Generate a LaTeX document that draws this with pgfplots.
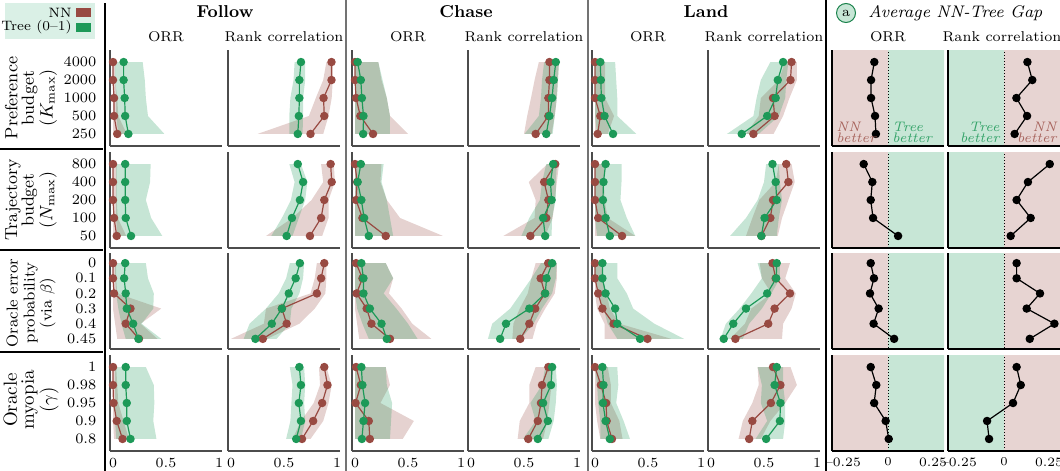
\documentclass[border=0pt]{standalone}
\usepackage{pgfplots}
\pgfplotsset{compat=1.18}
\usepackage{pgfplotstable}
\usepgfplotslibrary{fillbetween}
\definecolor{nncol}{RGB}{152,74,66}
\definecolor{trcol}{RGB}{29,153,88}
\definecolor{gappink}{RGB}{231,212,210}
\definecolor{gapgreen}{RGB}{199,230,214}
\definecolor{legbg}{RGB}{218,240,230}

% ---------- Row a: preference budget ----------
\pgfplotstableread{
y nn nnlo nnhi tr trlo trhi
0 0.00 0.00 0.02 0.10 0.02 0.28
-1 0.00 0.00 0.02 0.10 0.02 0.30
-2 0.01 0.00 0.04 0.11 0.03 0.31
-3 0.01 0.00 0.05 0.115 0.03 0.33
-4 0.04 0.00 0.13 0.145 0.05 0.485
}\Fao
\pgfplotstableread{
y nn nnlo nnhi tr trlo trhi
0 0.948 0.90 0.96 0.66 0.60 0.70
-1 0.948 0.87 0.96 0.645 0.59 0.70
-2 0.873 0.80 0.95 0.645 0.56 0.68
-3 0.88 0.735 0.92 0.64 0.55 0.68
-4 0.75 0.25 0.87 0.63 0.55 0.675
}\Far
\pgfplotstableread{
y nn nnlo nnhi tr trlo trhi
0 0.00 0.00 0.22 0.025 0.00 0.22
-1 0.00 0.00 0.25 0.055 0.00 0.26
-2 0.01 0.00 0.30 0.065 0.00 0.30
-3 0.05 0.00 0.33 0.08 0.00 0.33
-4 0.17 0.00 0.50 0.077 0.00 0.33
}\Cao
\pgfplotstableread{
y nn nnlo nnhi tr trlo trhi
0 0.74 0.64 0.83 0.80 0.69 0.83
-1 0.74 0.60 0.82 0.78 0.67 0.82
-2 0.73 0.566 0.81 0.765 0.66 0.81
-3 0.73 0.53 0.79 0.74 0.64 0.79
-4 0.61 0.50 0.76 0.71 0.505 0.77
}\Car
\pgfplotstableread{
y nn nnlo nnhi tr trlo trhi
0 0.00 0.00 0.095 0.05 0.00 0.19
-1 0.00 0.00 0.095 0.055 0.00 0.20
-2 0.00 0.00 0.095 0.06 0.00 0.21
-3 0.05 0.00 0.18 0.09 0.00 0.21
-4 0.025 0.00 0.12 0.17 0.02 0.39
}\Lao
\pgfplotstableread{
y nn nnlo nnhi tr trlo trhi
0 0.76 0.70 0.81 0.68 0.56 0.73
-1 0.75 0.64 0.81 0.63 0.47 0.71
-2 0.585 0.47 0.74 0.61 0.43 0.70
-3 0.60 0.45 0.68 0.53 0.40 0.64
-4 0.40 0.33 0.59 0.29 0.15 0.45
}\Lar
\pgfplotstableread{
y orr rank
0 -0.076 0.13
-1 -0.094 0.157
-2 -0.094 0.069
-3 -0.072 0.128
-4 -0.067 0.059
}\Ga

% ---------- Row b: trajectory budget ----------
\pgfplotstableread{
y nn nnlo nnhi tr trlo trhi
0 0.00 0.00 0.035 0.115 0.03 0.355
-1 0.00 0.00 0.035 0.115 0.03 0.35
-2 0.00 0.00 0.035 0.115 0.03 0.31
-3 0.01 0.00 0.045 0.12 0.03 0.36
-4 0.035 0.00 0.125 0.17 0.04 0.465
}\Fbo
\pgfplotstableread{
y nn nnlo nnhi tr trlo trhi
0 0.94 0.85 0.97 0.63 0.55 0.66
-1 0.95 0.87 0.98 0.68 0.60 0.72
-2 0.88 0.76 0.92 0.65 0.565 0.70
-3 0.85 0.58 0.92 0.575 0.48 0.64
-4 0.745 0.33 0.86 0.525 0.38 0.58
}\Fbr
\pgfplotstableread{
y nn nnlo nnhi tr trlo trhi
0 0.00 0.00 0.25 0.055 0.00 0.27
-1 0.02 0.00 0.24 0.025 0.00 0.25
-2 0.01 0.00 0.30 0.06 0.00 0.30
-3 0.07 0.00 0.425 0.086 0.00 0.33
-4 0.29 0.00 0.83 0.13 0.00 0.36
}\Cbo
\pgfplotstableread{
y nn nnlo nnhi tr trlo trhi
0 0.795 0.72 0.83 0.775 0.71 0.81
-1 0.69 0.545 0.81 0.75 0.67 0.80
-2 0.73 0.61 0.79 0.76 0.65 0.80
-3 0.71 0.60 0.77 0.68 0.55 0.765
-4 0.56 0.305 0.70 0.70 0.475 0.76
}\Cbr
\pgfplotstableread{
y nn nnlo nnhi tr trlo trhi
0 0.00 0.00 0.09 0.10 0.00 0.25
-1 0.00 0.00 0.085 0.08 0.00 0.25
-2 0.00 0.00 0.09 0.075 0.00 0.24
-3 0.03 0.00 0.12 0.10 0.00 0.30
-4 0.255 0.00 0.38 0.14 0.02 0.38
}\Lbo
\pgfplotstableread{
y nn nnlo nnhi tr trlo trhi
0 0.71 0.64 0.76 0.58 0.52 0.64
-1 0.73 0.61 0.79 0.61 0.50 0.65
-2 0.585 0.455 0.73 0.62 0.44 0.67
-3 0.56 0.39 0.67 0.505 0.33 0.64
-4 0.475 0.33 0.63 0.475 0.18 0.62
}\Lbr
\pgfplotstableread{
y orr rank
0 -0.135 0.254
-1 -0.087 0.133
-2 -0.096 0.07
-3 -0.083 0.148
-4 0.056 0.037
}\Gb

% ---------- Row c: oracle error probability ----------
\pgfplotstableread{
y nn nnlo nnhi tr trlo trhi
0 0.00 0.00 0.03 0.115 0.02 0.31
-1 0.00 0.00 0.03 0.105 0.02 0.33
-2 0.01 0.00 0.04 0.12 0.03 0.385
-3 0.165 0.00 0.455 0.13 0.05 0.38
-4 0.12 0.02 0.26 0.19 0.08 0.27
-5 0.245 0.04 0.42 0.24 0.12 0.455
}\Fco
\pgfplotstableread{
y nn nnlo nnhi tr trlo trhi
0 0.88 0.81 0.90 0.65 0.555 0.69
-1 0.85 0.79 0.90 0.61 0.52 0.68
-2 0.81 0.75 0.89 0.545 0.45 0.645
-3 0.48 0.33 0.79 0.48 0.33 0.57
-4 0.525 0.31 0.645 0.385 0.175 0.555
-5 0.30 0.00 0.34 0.23 0.12 0.43
}\Fcr
\pgfplotstableread{
y nn nnlo nnhi tr trlo trhi
0 0.01 0.00 0.29 0.06 0.00 0.29
-1 0.07 0.00 0.36 0.08 0.00 0.36
-2 0.015 0.00 0.32 0.08 0.00 0.27
-3 0.11 0.00 0.44 0.14 0.02 0.39
-4 0.155 0.02 0.54 0.25 0.07 0.50
-5 0.33 0.04 0.72 0.30 0.13 0.59
}\Cco
\pgfplotstableread{
y nn nnlo nnhi tr trlo trhi
0 0.728 0.61 0.81 0.765 0.66 0.81
-1 0.657 0.57 0.81 0.713 0.57 0.80
-2 0.697 0.535 0.79 0.70 0.47 0.765
-3 0.606 0.46 0.70 0.55 0.37 0.67
-4 0.55 0.40 0.62 0.33 0.20 0.59
-5 0.465 0.39 0.58 0.275 0.16 0.47
}\Ccr
\pgfplotstableread{
y nn nnlo nnhi tr trlo trhi
0 0.00 0.00 0.06 0.07 0.00 0.21
-1 0.00 0.00 0.07 0.07 0.00 0.21
-2 0.03 0.00 0.11 0.10 0.03 0.30
-3 0.07 0.02 0.14 0.19 0.08 0.36
-4 0.175 0.09 0.23 0.21 0.12 0.56
-5 0.495 0.09 0.72 0.425 0.21 0.84
}\Lco
\pgfplotstableread{
y nn nnlo nnhi tr trlo trhi
0 0.58 0.46 0.745 0.62 0.44 0.65
-1 0.61 0.48 0.70 0.615 0.48 0.65
-2 0.745 0.57 0.80 0.53 0.38 0.57
-3 0.60 0.38 0.76 0.33 0.27 0.48
-4 0.54 0.32 0.68 0.21 0.14 0.36
-5 0.23 0.18 0.67 0.12 0.09 0.30
}\Lcr
\pgfplotstableread{
y orr rank
0 -0.096 0.07
-1 -0.078 0.07
-2 -0.10 0.20
-3 -0.052 0.126
-4 -0.08 0.28
-5 0.034 0.143
}\Gc

% ---------- Row d: oracle myopia ----------
\pgfplotstableread{
y nn nnlo nnhi tr trlo trhi
0 0.00 0.00 0.03 0.12 0.02 0.31
-1 0.00 0.00 0.04 0.12 0.02 0.385
-2 0.005 0.00 0.05 0.13 0.02 0.39
-3 0.035 0.00 0.10 0.13 0.02 0.38
-4 0.09 0.01 0.15 0.165 0.03 0.41
}\Fdo
\pgfplotstableread{
y nn nnlo nnhi tr trlo trhi
0 0.88 0.83 0.90 0.645 0.555 0.69
-1 0.91 0.84 0.95 0.66 0.58 0.70
-2 0.86 0.78 0.92 0.64 0.57 0.69
-3 0.775 0.66 0.87 0.66 0.56 0.70
-4 0.67 0.58 0.75 0.615 0.52 0.66
}\Fdr
\pgfplotstableread{
y nn nnlo nnhi tr trlo trhi
0 0.01 0.00 0.29 0.06 0.00 0.29
-1 0.055 0.00 0.33 0.07 0.00 0.30
-2 0.005 0.00 0.24 0.095 0.00 0.35
-3 0.13 0.00 0.555 0.08 0.00 0.34
-4 0.14 0.00 0.45 0.065 0.00 0.33
}\Cdo
\pgfplotstableread{
y nn nnlo nnhi tr trlo trhi
0 0.73 0.61 0.77 0.765 0.70 0.80
-1 0.67 0.55 0.76 0.755 0.67 0.81
-2 0.66 0.55 0.74 0.68 0.56 0.80
-3 0.63 0.46 0.72 0.725 0.61 0.78
-4 0.54 0.44 0.68 0.63 0.49 0.73
}\Cdr
\pgfplotstableread{
y nn nnlo nnhi tr trlo trhi
0 0.00 0.00 0.12 0.07 0.00 0.21
-1 0.055 0.00 0.15 0.08 0.02 0.22
-2 0.105 0.00 0.15 0.075 0.03 0.20
-3 0.11 0.02 0.23 0.10 0.05 0.27
-4 0.16 0.05 0.26 0.14 0.05 0.33
}\Ldo
\pgfplotstableread{
y nn nnlo nnhi tr trlo trhi
0 0.585 0.44 0.75 0.62 0.44 0.68
-1 0.655 0.45 0.81 0.60 0.48 0.68
-2 0.565 0.39 0.70 0.655 0.47 0.70
-3 0.39 0.30 0.56 0.65 0.53 0.70
-4 0.36 0.26 0.47 0.52 0.42 0.68
}\Ldr
\pgfplotstableread{
y orr rank
0 -0.096 0.07
-1 -0.065 0.093
-2 -0.077 0.05
-3 -0.013 -0.094
-4 0.004 -0.083
}\Gd

\pgfplotsset{
  base/.style={anchor=north west, scale only axis, width=56pt, height=48pt,
    axis x line*=bottom, axis y line*=left,
    axis line style={black!70, line width=0.6pt, -},
    ymin=-4.67, ymax=0.67, ytick=\empty, yticklabels={}, xticklabels={},
    major tick length=0pt,
    ticklabel style={font=\fontsize{6.6}{8}\selectfont},
    yticklabel style={xshift=-3.3pt, font=\fontsize{7.2}{8}\selectfont}},
  panel/.style={base, xmin=-0.0283, xmax=1.0283, xtick={0,0.5,1}},
  gap/.style={base, xmin=-0.311, xmax=0.311, xtick={-0.25,0,0.25},
    axis on top, axis line style={black, line width=0.7pt, -},
    xticklabel style={font=\fontsize{6.4}{8}\selectfont}},
}

\newcommand{\bandaxis}[3]{%
\begin{axis}[panel, at={(#1)}, #3]
\addplot[name path=nl, draw=none] table[x=nnlo,y=y]{#2};
\addplot[name path=nh, draw=none] table[x=nnhi,y=y]{#2};
\addplot[fill=nncol, fill opacity=0.25, draw=none] fill between[of=nl and nh, reverse=true];
\addplot[name path=tl, draw=none] table[x=trlo,y=y]{#2};
\addplot[name path=th, draw=none] table[x=trhi,y=y]{#2};
\addplot[fill=trcol, fill opacity=0.25, draw=none] fill between[of=tl and th, reverse=true];
\addplot[nncol, line width=0.6pt, mark=*, mark size=1.8pt] table[x=nn,y=y]{#2};
\addplot[trcol, line width=0.6pt, mark=*, mark size=1.8pt] table[x=tr,y=y]{#2};
\end{axis}}

\newcommand{\gapaxis}[6]{%
\begin{axis}[gap, at={(#1)}, #6]
\addplot[draw=none, fill=#4] coordinates {(-0.5,-8) (0,-8) (0,2) (-0.5,2)};
\addplot[draw=none, fill=#5] coordinates {(0,-8) (0.5,-8) (0.5,2) (0,2)};
\addplot[black, densely dotted, line width=0.5pt] coordinates {(0,-8) (0,2)};
\addplot[black, line width=0.6pt, mark=*, mark size=1.8pt] table[x=#3,y=y]{#2};
\end{axis}}

\begin{document}
\begin{tikzpicture}[font=\fontsize{7.1}{9}\selectfont]

% legend box
\fill[legbg] (2.5pt,-1.5pt) rectangle (47.5pt,-19.5pt);
\fill[nncol] (38pt,-4pt) rectangle (45.5pt,-8.5pt);
\fill[trcol] (38pt,-11.5pt) rectangle (45.5pt,-16pt);
\node[anchor=east, font=\fontsize{6.8}{8}\selectfont, inner sep=0pt] at (36pt,-6.2pt) {NN};
\node[anchor=east, font=\fontsize{6.8}{8}\selectfont, inner sep=0pt] at (36pt,-13.6pt) {Tree (0--1)};

% separators
\draw[black, line width=0.6pt] (52.5pt,-1.5pt) -- (52.5pt,-235.5pt);
\draw[black!55, line width=1.1pt] (173pt,0pt) -- (173pt,-235.5pt);
\draw[black!55, line width=1.1pt] (294pt,0pt) -- (294pt,-235.5pt);
\draw[black, line width=0.6pt] (413pt,0pt) -- (413pt,-235.5pt);
\draw[black, line width=0.6pt] (0pt,-74.5pt) -- (51.5pt,-74.5pt);
\draw[black, line width=0.6pt] (0pt,-125pt) -- (51.5pt,-125pt);
\draw[black, line width=0.6pt] (0pt,-176pt) -- (51.5pt,-176pt);

% titles
\node[font=\bfseries\fontsize{8.6}{10}\selectfont] at (112.5pt,-6pt) {Follow};
\node[font=\bfseries\fontsize{8.6}{10}\selectfont] at (233pt,-6pt) {Chase};
\node[font=\bfseries\fontsize{8.6}{10}\selectfont] at (353pt,-6pt) {Land};
\node at (83pt,-18.5pt) {ORR};
\node at (142pt,-18.5pt) {Rank correlation};
\node at (204pt,-18.5pt) {ORR};
\node at (262pt,-18.5pt) {Rank correlation};
\node at (324pt,-18.5pt) {ORR};
\node at (382pt,-18.5pt) {Rank correlation};
\node at (444pt,-18.5pt) {ORR};
\node at (501pt,-18.5pt) {Rank correlation};
\node[circle, draw=trcol!85!black, fill=gapgreen, line width=0.5pt, minimum size=9.5pt, inner sep=0pt, font=\fontsize{7}{8}\selectfont] at (423pt,-6.5pt) {a};
\node[anchor=west, font=\itshape\fontsize{8.4}{10}\selectfont] at (430.7pt,-6.5pt) {Average NN-Tree Gap};

% row labels
\node[rotate=90, align=center, font=\fontsize{8.8}{8.3}\selectfont] at (15.5pt,-49pt) {Preference\\budget\\($K_{\max}$)};
\node[rotate=90, align=center, font=\fontsize{8.7}{8.3}\selectfont] at (15.5pt,-100pt) {Trajectory\\budget\\($N_{\max}$)};
\node[rotate=90, align=center, font=\fontsize{7.9}{8.5}\selectfont] at (15.5pt,-151.5pt) {Oracle error\\probability\\(via $\beta$)};
\node[rotate=90, align=center, font=\fontsize{9.5}{8.5}\selectfont] at (15.5pt,-200pt) {Oracle\\myopia\\($\gamma$)};

% ---- row a
\bandaxis{55pt,-25pt}{\Fao}{ytick={-4,-3,-2,-1,0}, yticklabels={250,500,1000,2000,4000}}
\bandaxis{114pt,-25pt}{\Far}{}
\bandaxis{176pt,-25pt}{\Cao}{}
\bandaxis{234pt,-25pt}{\Car}{}
\bandaxis{296pt,-25pt}{\Lao}{}
\bandaxis{354pt,-25pt}{\Lar}{}
\gapaxis{416pt,-25pt}{\Ga}{orr}{gappink}{gapgreen}{}
\gapaxis{474pt,-25pt}{\Ga}{rank}{gapgreen}{gappink}{}
% ---- row b
\bandaxis{55pt,-76pt}{\Fbo}{ytick={-4,-3,-2,-1,0}, yticklabels={50,100,200,400,800}}
\bandaxis{114pt,-76pt}{\Fbr}{}
\bandaxis{176pt,-76pt}{\Cbo}{}
\bandaxis{234pt,-76pt}{\Cbr}{}
\bandaxis{296pt,-76pt}{\Lbo}{}
\bandaxis{354pt,-76pt}{\Lbr}{}
\gapaxis{416pt,-76pt}{\Gb}{orr}{gappink}{gapgreen}{}
\gapaxis{474pt,-76pt}{\Gb}{rank}{gapgreen}{gappink}{}
% ---- row c
\bandaxis{55pt,-126.5pt}{\Fco}{ymin=-5.67, ytick={-5,-4,-3,-2,-1,0}, yticklabels={0.45,0.4,0.3,0.2,0.1,0}}
\bandaxis{114pt,-126.5pt}{\Fcr}{ymin=-5.67}
\bandaxis{176pt,-126.5pt}{\Cco}{ymin=-5.67}
\bandaxis{234pt,-126.5pt}{\Ccr}{ymin=-5.67}
\bandaxis{296pt,-126.5pt}{\Lco}{ymin=-5.67}
\bandaxis{354pt,-126.5pt}{\Lcr}{ymin=-5.67}
\gapaxis{416pt,-126.5pt}{\Gc}{orr}{gappink}{gapgreen}{ymin=-5.67}
\gapaxis{474pt,-126.5pt}{\Gc}{rank}{gapgreen}{gappink}{ymin=-5.67}
% ---- row d
\bandaxis{55pt,-177.5pt}{\Fdo}{ytick={-4,-3,-2,-1,0}, yticklabels={0.8,0.9,0.95,0.98,1}, xticklabels={$0$,$0.5$,$1$}}
\bandaxis{114pt,-177.5pt}{\Fdr}{xticklabels={$0$,$0.5$,$1$}}
\bandaxis{176pt,-177.5pt}{\Cdo}{xticklabels={$0$,$0.5$,$1$}}
\bandaxis{234pt,-177.5pt}{\Cdr}{xticklabels={$0$,$0.5$,$1$}}
\bandaxis{296pt,-177.5pt}{\Ldo}{xticklabels={$0$,$0.5$,$1$}}
\bandaxis{354pt,-177.5pt}{\Ldr}{xticklabels={$0$,$0.5$,$1$}}
\gapaxis{416pt,-177.5pt}{\Gd}{orr}{gappink}{gapgreen}{xticklabels={--0.25,$0$,0.25}}
\gapaxis{474pt,-177.5pt}{\Gd}{rank}{gapgreen}{gappink}{xticklabels={--0.25,$0$,0.25}}

% gap annotations
\node[anchor=west, align=left, inner sep=0pt, text=nncol!85, font=\itshape\fontsize{6.9}{5.5}\selectfont] at (418pt,-66pt) {NN\\better};
\node[anchor=west, align=left, inner sep=0pt, text=trcol!90, font=\itshape\fontsize{6.9}{5.5}\selectfont] at (446pt,-66pt) {Tree\\better};
\node[anchor=east, align=right, inner sep=0pt, text=trcol!90, font=\itshape\fontsize{6.9}{5.5}\selectfont] at (500pt,-66pt) {Tree\\better};
\node[anchor=east, align=right, inner sep=0pt, text=nncol!85, font=\itshape\fontsize{6.9}{5.5}\selectfont] at (528.5pt,-66pt) {NN\\better};

\pgfresetboundingbox
\useasboundingbox (0pt,0pt) rectangle (530pt,-235.5pt);
\end{tikzpicture}
\end{document}
